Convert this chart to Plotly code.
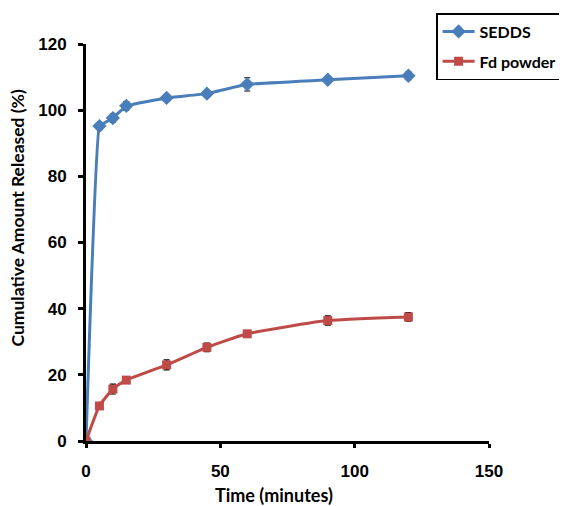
import plotly.graph_objects as go

time = [0, 5, 10, 15, 30, 45, 60, 90, 120]
sedds = [0, 95.2, 97.6, 101.3, 103.7, 105.0, 107.8, 109.2, 110.4]
sedds_err = [0, 1.0, 1.2, 1.3, 0.8, 1.0, 2.0, 1.0, 1.2]
fd = [0, 10.6, 15.7, 18.4, 23.0, 28.3, 32.4, 36.4, 37.5]
fd_err = [0, 0.8, 1.5, 0.8, 1.5, 1.3, 0.8, 1.4, 1.3]

x_ticks = [0, 50, 100, 150]
y_ticks = [0, 20, 40, 60, 80, 100, 120]

tick_font = "Liberation Sans"
title_font = "Lato"

fig = go.Figure()
fig.add_trace(go.Scatter(
    x=time, y=sedds, name="SEDDS", mode="lines+markers", legendgroup="g1",
    line=dict(color="#4A7EBB", width=3, shape="spline", smoothing=0.2),
    marker=dict(symbol="diamond", size=11, color="#4A7EBB"),
    error_y=dict(type="data", array=sedds_err, color="black", thickness=1.2, width=3),
))
fig.add_trace(go.Scatter(
    x=time, y=fd, name="Fd powder", mode="lines+markers", legendgroup="g2",
    line=dict(color="#BE4B48", width=3, shape="spline", smoothing=0.5),
    marker=dict(symbol="square", size=9, color="#BE4B48"),
    error_y=dict(type="data", array=fd_err, color="black", thickness=1.2, width=3),
))

fig.update_layout(
    width=567, height=506,
    margin=dict(l=78, r=86, t=36, b=73, autoexpand=False),
    paper_bgcolor="white", plot_bgcolor="white",
    font=dict(family=tick_font, color="black"),
    showlegend=True,
    legend=dict(xref="container", yref="container", x=0.755, y=0.99,
                xanchor="left", yanchor="top",
                bordercolor="black", borderwidth=1.5, bgcolor="white",
                font=dict(family=title_font, size=16, color="black", weight="bold"),
                itemwidth=32, tracegroupgap=6),
    xaxis=dict(range=[0, 150], tickvals=x_ticks,
               ticktext=["<b>%d</b>" % v for v in x_ticks],
               showline=True, linecolor="black", linewidth=3,
               ticks="outside", ticklen=4, tickwidth=2.5, tickcolor="black",
               showgrid=False, zeroline=False, automargin=False,
               ticklabelstandoff=9,
               tickfont=dict(size=17, family=tick_font)),
    yaxis=dict(range=[0, 120], tickvals=y_ticks,
               ticktext=["<b>%d</b>" % v for v in y_ticks],
               showline=True, linecolor="black", linewidth=3,
               ticks="outside", ticklen=5, tickwidth=2.5, tickcolor="black",
               showgrid=False, zeroline=False, automargin=False,
               ticklabelstandoff=8,
               tickfont=dict(size=17, family=tick_font)),
    annotations=[
        dict(text="<b>Time (minutes)</b>", xref="paper", yref="paper",
             x=0.4665, y=0, yshift=-54, xanchor="center", yanchor="middle",
             showarrow=False, font=dict(size=18, family=title_font, color="black")),
        dict(text="<b>Cumulative Amount Released (%)</b>", xref="paper", yref="paper",
             x=0, y=0.5605, xshift=-69, xanchor="center", yanchor="middle",
             textangle=-90, showarrow=False,
             font=dict(size=17.5, family=title_font, color="black")),
    ],
)

fig.write_html("out.html")
